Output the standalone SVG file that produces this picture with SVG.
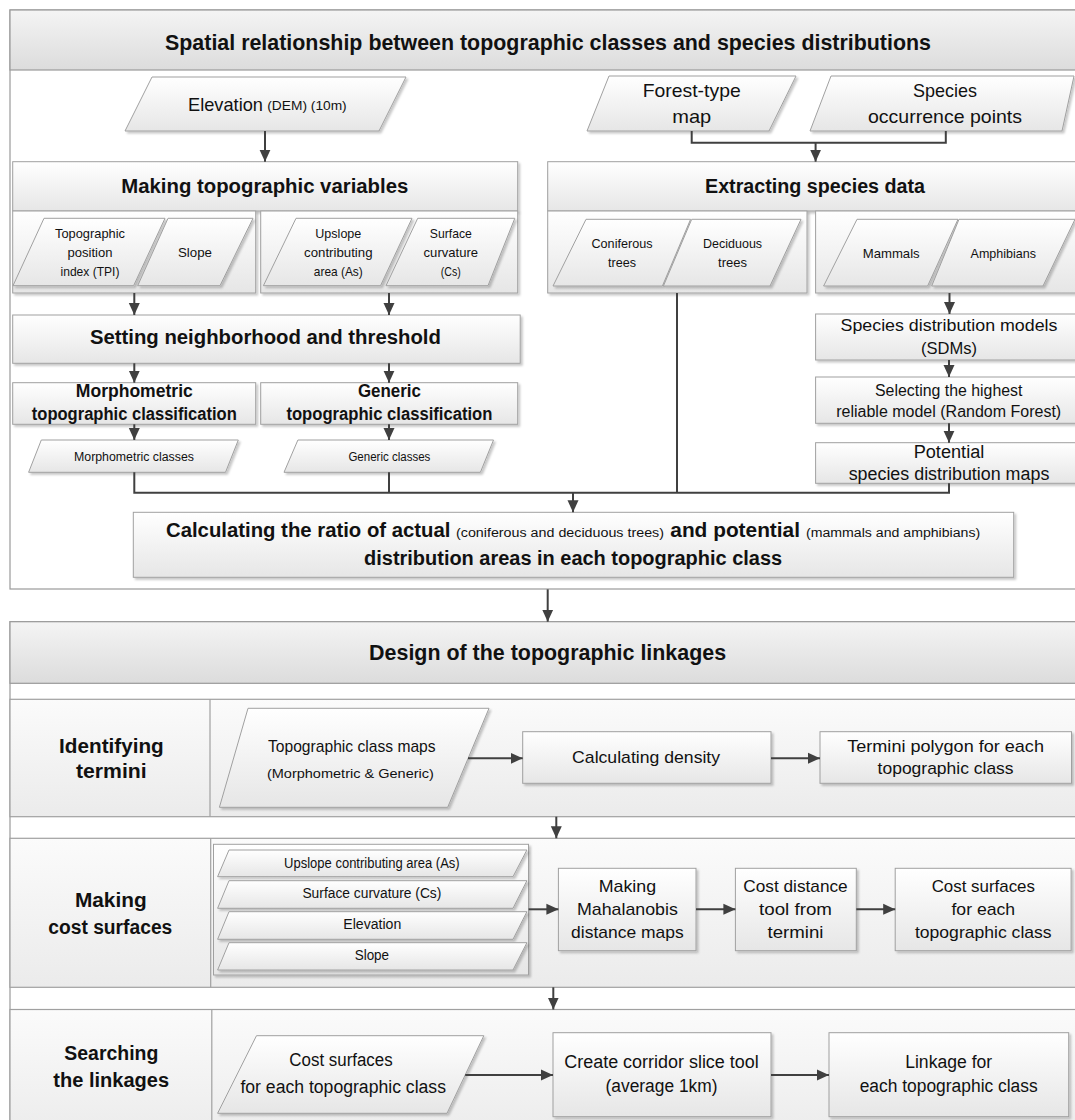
<svg xmlns="http://www.w3.org/2000/svg" width="1075" height="1120" viewBox="0 0 1075 1120">
<defs>
<linearGradient id="gBox" x1="0" y1="0" x2="0" y2="1"><stop offset="0" stop-color="#ffffff"/><stop offset="1" stop-color="#e6e6e6"/></linearGradient>
<linearGradient id="gTitle" x1="0" y1="0" x2="0" y2="1"><stop offset="0" stop-color="#f4f4f4"/><stop offset="1" stop-color="#dcdcdc"/></linearGradient>
<linearGradient id="gRow" x1="0" y1="0" x2="0" y2="1"><stop offset="0" stop-color="#fbfbfb"/><stop offset="1" stop-color="#ebebeb"/></linearGradient>
<filter id="sh" x="-5%" y="-5%" width="115%" height="130%"><feDropShadow dx="2" dy="2" stdDeviation="1.2" flood-color="#000" flood-opacity="0.22"/></filter>
<marker id="ah" viewBox="0 0 12 12" refX="12" refY="6" markerWidth="12" markerHeight="12" markerUnits="userSpaceOnUse" orient="auto"><path d="M0,0.5 L12,6 L0,11.5 z" fill="#404040"/></marker>
</defs>
<style>
.frame{fill:#ffffff;stroke:#9a9a9a;stroke-width:1.2}
.tbar{fill:url(#gTitle);stroke:#9a9a9a;stroke-width:1.2}
.row{fill:url(#gRow);stroke:#a0a0a0;stroke-width:1.2}
.box{fill:url(#gBox);stroke:#a0a0a0;stroke-width:1;filter:url(#sh)}
.conn{stroke:#404040;stroke-width:2;fill:none}
.arr{marker-end:url(#ah)}
text{font-family:"Liberation Sans",Arial,sans-serif;fill:#111111;text-anchor:middle}
.b{font-weight:bold}
.s{text-anchor:start}
</style>

<!-- Section 1 frame -->
<g id="section1">
<rect class="frame" x="10" y="10" width="1080" height="579"/>
<rect class="tbar" x="10" y="10" width="1080" height="60"/>
<text class="b" x="548" y="50" font-size="21.5" textLength="766" lengthAdjust="spacingAndGlyphs">Spatial relationship between topographic classes and species distributions</text>
</g>

<g id="elevation">
<polygon class="box" points="152,77 406,77 379,131 125,131"/>
<text class="s" x="188" y="111" font-size="19" textLength="75" lengthAdjust="spacingAndGlyphs">Elevation</text>
<text class="s" x="267.3" y="110" font-size="12" textLength="79.4" lengthAdjust="spacingAndGlyphs">(DEM) (10m)</text>
</g>

<g id="forest-type">
<polygon class="box" points="609,76 796,76 769,131 587,131"/>
<text x="691.7" y="97" font-size="19" textLength="98" lengthAdjust="spacingAndGlyphs">Forest-type</text>
<text x="691.7" y="123" font-size="19" textLength="39" lengthAdjust="spacingAndGlyphs">map</text>
</g>

<g id="species-occurrence">
<polygon class="box" points="831,76 1074,76 1062,131 810,131"/>
<text x="945" y="97" font-size="19" textLength="64" lengthAdjust="spacingAndGlyphs">Species</text>
<text x="945" y="123" font-size="19" textLength="154" lengthAdjust="spacingAndGlyphs">occurrence points</text>
</g>

<g id="making-topo-vars">
<rect class="box" x="12.7" y="161.7" width="505" height="49.3"/>
<rect class="box" x="12.7" y="211" width="243" height="82"/>
<rect class="box" x="260.7" y="211" width="257" height="82"/>
<text class="b" x="264.8" y="193" font-size="20" textLength="287" lengthAdjust="spacingAndGlyphs">Making topographic variables</text>
<polygon class="box" points="44,218.3 165,218.3 133.6,285.7 13,285.7"/>
<text x="90" y="238" font-size="13.5" textLength="70" lengthAdjust="spacingAndGlyphs">Topographic</text>
<text x="90" y="257" font-size="13.5" textLength="45" lengthAdjust="spacingAndGlyphs">position</text>
<text x="90" y="276" font-size="13.5" textLength="59" lengthAdjust="spacingAndGlyphs">index (TPI)</text>
<polygon class="box" points="168,218.3 253,218.3 220,285.7 137.7,285.7"/>
<text x="195" y="257" font-size="13.5" textLength="34" lengthAdjust="spacingAndGlyphs">Slope</text>
<polygon class="box" points="296,218.3 412,218.3 380.5,285.7 263.4,285.7"/>
<text x="338.3" y="238" font-size="13.5" textLength="46" lengthAdjust="spacingAndGlyphs">Upslope</text>
<text x="338.3" y="257" font-size="13.5" textLength="68.5" lengthAdjust="spacingAndGlyphs">contributing</text>
<text x="338.3" y="276" font-size="13.5" textLength="49" lengthAdjust="spacingAndGlyphs">area (As)</text>
<polygon class="box" points="417.7,218.3 514.8,218.3 488,285.7 386,285.7"/>
<text x="450.8" y="238" font-size="13.5" textLength="42" lengthAdjust="spacingAndGlyphs">Surface</text>
<text x="450.8" y="257" font-size="13.5" textLength="54.4" lengthAdjust="spacingAndGlyphs">curvature</text>
<text x="450.8" y="276" font-size="13.5" textLength="20" lengthAdjust="spacingAndGlyphs">(Cs)</text>
</g>

<g id="extracting-species">
<rect class="box" x="547.7" y="161.7" width="540" height="49.3"/>
<rect class="box" x="547.7" y="211" width="259.3" height="82"/>
<rect class="box" x="815.6" y="211" width="270" height="82"/>
<text class="b" x="815" y="193" font-size="20" textLength="220" lengthAdjust="spacingAndGlyphs">Extracting species data</text>
<polygon class="box" points="586,219.3 690.6,219.3 662.4,286 553,286"/>
<text x="622" y="248.3" font-size="13.5" textLength="61" lengthAdjust="spacingAndGlyphs">Coniferous</text>
<text x="622" y="266.7" font-size="13.5" textLength="28" lengthAdjust="spacingAndGlyphs">trees</text>
<polygon class="box" points="691.7,219.3 801,219.3 770,286 663.4,286"/>
<text x="732.6" y="248.3" font-size="13.5" textLength="59" lengthAdjust="spacingAndGlyphs">Deciduous</text>
<text x="732.6" y="266.7" font-size="13.5" textLength="29" lengthAdjust="spacingAndGlyphs">trees</text>
<polygon class="box" points="857,219.3 958,219.3 927.6,286 823.6,286"/>
<text x="891.2" y="258.3" font-size="13.5" textLength="57" lengthAdjust="spacingAndGlyphs">Mammals</text>
<polygon class="box" points="959,219.3 1075,219.3 1043,286 931.7,286"/>
<text x="1003.3" y="258.3" font-size="13.5" textLength="65.4" lengthAdjust="spacingAndGlyphs">Amphibians</text>
</g>

<g id="setting-neighborhood">
<rect class="box" x="12.7" y="315" width="507.5" height="48.3"/>
<text class="b" x="265.4" y="344" font-size="20" textLength="351" lengthAdjust="spacingAndGlyphs">Setting neighborhood and threshold</text>
</g>

<g id="morphometric-classification">
<rect class="box" x="12.7" y="382.7" width="243" height="41.6"/>
<text class="b" x="134.3" y="396.7" font-size="17.5" textLength="117" lengthAdjust="spacingAndGlyphs">Morphometric</text>
<text class="b" x="134.3" y="420" font-size="17.5" textLength="205" lengthAdjust="spacingAndGlyphs">topographic classification</text>
</g>

<g id="generic-classification">
<rect class="box" x="260.7" y="382.7" width="257" height="41.6"/>
<text class="b" x="389.4" y="396.7" font-size="17.5" textLength="63" lengthAdjust="spacingAndGlyphs">Generic</text>
<text class="b" x="389.4" y="420" font-size="17.5" textLength="206" lengthAdjust="spacingAndGlyphs">topographic classification</text>
</g>

<g id="morphometric-classes">
<polygon class="box" points="41.3,440 238.3,440 225.5,472.3 28.6,472.3"/>
<text x="134" y="461" font-size="12.5" textLength="120" lengthAdjust="spacingAndGlyphs">Morphometric classes</text>
</g>

<g id="generic-classes">
<polygon class="box" points="297.9,440 493.5,440 480.4,472.3 284,472.3"/>
<text x="389.4" y="461" font-size="12.5" textLength="82" lengthAdjust="spacingAndGlyphs">Generic classes</text>
</g>

<g id="sdm">
<rect class="box" x="815.6" y="314" width="270" height="46"/>
<text x="949" y="330.7" font-size="17" textLength="217" lengthAdjust="spacingAndGlyphs">Species distribution models</text>
<text x="949" y="354" font-size="17" textLength="56" lengthAdjust="spacingAndGlyphs">(SDMs)</text>
</g>

<g id="selecting-model">
<rect class="box" x="815.6" y="377" width="270" height="46.3"/>
<text x="948.7" y="396" font-size="16" textLength="147.4" lengthAdjust="spacingAndGlyphs">Selecting the highest</text>
<text x="948.7" y="416.7" font-size="16" textLength="225" lengthAdjust="spacingAndGlyphs">reliable model (Random Forest)</text>
</g>

<g id="potential-maps">
<rect class="box" x="815.6" y="442.7" width="270" height="40.6"/>
<text x="949" y="457.7" font-size="18" textLength="70.6" lengthAdjust="spacingAndGlyphs">Potential</text>
<text x="949" y="480" font-size="18" textLength="200.7" lengthAdjust="spacingAndGlyphs">species distribution maps</text>
</g>

<g id="calculating-ratio">
<rect class="box" x="133.3" y="512.3" width="880.4" height="65"/>
<text class="b s" x="166" y="537.3" font-size="20" textLength="284.4" lengthAdjust="spacingAndGlyphs">Calculating the ratio of actual</text>
<text class="s" x="456" y="537.3" font-size="12.5" textLength="208" lengthAdjust="spacingAndGlyphs">(coniferous and deciduous trees)</text>
<text class="b s" x="670.3" y="537.3" font-size="20" textLength="129.7" lengthAdjust="spacingAndGlyphs">and potential</text>
<text class="s" x="806" y="537.3" font-size="12.5" textLength="174.2" lengthAdjust="spacingAndGlyphs">(mammals and amphibians)</text>
<text class="b" x="573.1" y="565" font-size="20" textLength="418" lengthAdjust="spacingAndGlyphs">distribution areas in each topographic class</text>
</g>

<!-- Section 2 -->
<g id="section2">
<rect class="frame" x="10" y="621.7" width="1080" height="520"/>
<rect class="tbar" x="10" y="621.7" width="1080" height="61.6"/>
<text class="b" x="547.6" y="660" font-size="21.5" textLength="357" lengthAdjust="spacingAndGlyphs">Design of the topographic linkages</text>
<rect class="row" x="10" y="699.3" width="1080" height="117.4"/>
<line x1="210" y1="699.3" x2="210" y2="816.7" stroke="#a0a0a0" stroke-width="1.2"/>
<rect class="row" x="10" y="838.3" width="1080" height="149"/>
<line x1="210.7" y1="838.3" x2="210.7" y2="987.3" stroke="#a0a0a0" stroke-width="1.2"/>
<rect class="row" x="10" y="1009.5" width="1080" height="130"/>
<line x1="211.8" y1="1009.5" x2="211.8" y2="1139" stroke="#a0a0a0" stroke-width="1.2"/>
</g>

<g id="label-identifying">
<text class="b" x="111.4" y="752.7" font-size="20" textLength="104.6" lengthAdjust="spacingAndGlyphs">Identifying</text>
<text class="b" x="111.3" y="778.3" font-size="20" textLength="70.7" lengthAdjust="spacingAndGlyphs">termini</text>
</g>

<g id="topo-class-maps">
<polygon class="box" points="248,708.3 489,708.3 447.7,807.3 219.4,807.3"/>
<text x="351.8" y="751.7" font-size="17" textLength="167.6" lengthAdjust="spacingAndGlyphs">Topographic class maps</text>
<text x="350.4" y="777.7" font-size="12.5" textLength="167" lengthAdjust="spacingAndGlyphs">(Morphometric &amp; Generic)</text>
</g>

<g id="calc-density">
<rect class="box" x="522.7" y="731.7" width="248.3" height="51.6"/>
<text x="646.1" y="763.3" font-size="17" textLength="148" lengthAdjust="spacingAndGlyphs">Calculating density</text>
</g>

<g id="termini-polygon">
<rect class="box" x="820" y="731.7" width="251.5" height="51.6"/>
<text x="945.6" y="751.7" font-size="17" textLength="196.7" lengthAdjust="spacingAndGlyphs">Termini polygon for each</text>
<text x="945.6" y="774.3" font-size="17" textLength="136" lengthAdjust="spacingAndGlyphs">topographic class</text>
</g>

<g id="label-making-cost">
<text class="b" x="110.8" y="906.7" font-size="20" textLength="71.7" lengthAdjust="spacingAndGlyphs">Making</text>
<text class="b" x="110.3" y="934" font-size="20" textLength="124" lengthAdjust="spacingAndGlyphs">cost surfaces</text>
</g>

<g id="cost-variables">
<rect class="box" x="213.5" y="844.3" width="315" height="130.7"/>
<polygon class="box" points="229,850 526.9,850 513,876.7 217.6,876.7"/>
<text x="371.9" y="868.3" font-size="14" textLength="175.6" lengthAdjust="spacingAndGlyphs">Upslope contributing area (As)</text>
<polygon class="box" points="229,880.7 526.9,880.7 513,908.3 217.6,908.3"/>
<text x="371.9" y="898.3" font-size="14" textLength="139" lengthAdjust="spacingAndGlyphs">Surface curvature (Cs)</text>
<polygon class="box" points="229,911.7 526.9,911.7 513,939.3 217.6,939.3"/>
<text x="372.3" y="929.3" font-size="14" textLength="58" lengthAdjust="spacingAndGlyphs">Elevation</text>
<polygon class="box" points="229,942.7 526.9,942.7 513,970 217.6,970"/>
<text x="371.9" y="960" font-size="14" textLength="34.4" lengthAdjust="spacingAndGlyphs">Slope</text>
</g>

<g id="mahalanobis">
<rect class="box" x="558.4" y="868.3" width="137.6" height="82.4"/>
<text x="627.4" y="891.7" font-size="17" textLength="57.5" lengthAdjust="spacingAndGlyphs">Making</text>
<text x="627.4" y="915" font-size="17" textLength="101" lengthAdjust="spacingAndGlyphs">Mahalanobis</text>
<text x="627.4" y="938.3" font-size="17" textLength="112.6" lengthAdjust="spacingAndGlyphs">distance maps</text>
</g>

<g id="cost-distance">
<rect class="box" x="735.4" y="868.3" width="120.9" height="82.4"/>
<text x="795.5" y="891.7" font-size="17" textLength="104.4" lengthAdjust="spacingAndGlyphs">Cost distance</text>
<text x="795.5" y="915" font-size="17" textLength="73" lengthAdjust="spacingAndGlyphs">tool from</text>
<text x="795.5" y="938.3" font-size="17" textLength="56" lengthAdjust="spacingAndGlyphs">termini</text>
</g>

<g id="cost-surfaces-out">
<rect class="box" x="895.2" y="868.3" width="175.9" height="82.4"/>
<text x="983.3" y="891.7" font-size="17" textLength="103.3" lengthAdjust="spacingAndGlyphs">Cost surfaces</text>
<text x="983.3" y="915" font-size="17" textLength="63.7" lengthAdjust="spacingAndGlyphs">for each</text>
<text x="983.3" y="938.3" font-size="17" textLength="136.7" lengthAdjust="spacingAndGlyphs">topographic class</text>
</g>

<g id="label-searching">
<text class="b" x="111.3" y="1060" font-size="20" textLength="94" lengthAdjust="spacingAndGlyphs">Searching</text>
<text class="b" x="111.2" y="1087" font-size="20" textLength="115.7" lengthAdjust="spacingAndGlyphs">the linkages</text>
</g>

<g id="cost-surfaces-in">
<polygon class="box" points="256.5,1035.7 483.8,1035.7 447,1113.3 217.6,1113.3"/>
<text x="341" y="1066" font-size="18" textLength="103.3" lengthAdjust="spacingAndGlyphs">Cost surfaces</text>
<text x="343.2" y="1093.3" font-size="18" textLength="205.6" lengthAdjust="spacingAndGlyphs">for each topographic class</text>
</g>

<g id="corridor-slice">
<rect class="box" x="553" y="1032.7" width="218" height="84"/>
<text x="661.5" y="1068.3" font-size="18" textLength="194.5" lengthAdjust="spacingAndGlyphs">Create corridor slice tool</text>
<text x="661.5" y="1091.7" font-size="18" textLength="112" lengthAdjust="spacingAndGlyphs">(average 1km)</text>
</g>

<g id="linkage">
<rect class="box" x="829" y="1032.7" width="239.7" height="84"/>
<text x="948.7" y="1068.3" font-size="18" textLength="87" lengthAdjust="spacingAndGlyphs">Linkage for</text>
<text x="948.7" y="1091.7" font-size="18" textLength="178" lengthAdjust="spacingAndGlyphs">each topographic class</text>
</g>

<g id="connectors">
<line class="conn arr" x1="265" y1="131" x2="265" y2="161.7"/>
<polyline class="conn" points="691.7,131 691.7,142.7 945.8,142.7 945.8,131"/>
<line class="conn arr" x1="815.6" y1="142.7" x2="815.6" y2="161.7"/>
<line class="conn arr" x1="134.3" y1="293" x2="134.3" y2="315"/>
<line class="conn arr" x1="389" y1="293" x2="389" y2="315"/>
<line class="conn arr" x1="134.3" y1="363.3" x2="134.3" y2="382.7"/>
<line class="conn arr" x1="389" y1="363.3" x2="389" y2="382.7"/>
<line class="conn arr" x1="134.3" y1="424.3" x2="134.3" y2="440"/>
<line class="conn arr" x1="389" y1="424.3" x2="389" y2="440"/>
<line class="conn arr" x1="949.5" y1="293" x2="949.5" y2="314"/>
<line class="conn arr" x1="949" y1="360" x2="949" y2="377"/>
<line class="conn arr" x1="949" y1="423.3" x2="949" y2="442.7"/>
<polyline class="conn" points="134.3,472.3 134.3,492.7 949,492.7 949,483.3"/>
<line class="conn" x1="389" y1="472.3" x2="389" y2="492.7"/>
<line class="conn" x1="677" y1="293" x2="677" y2="492.7"/>
<line class="conn arr" x1="573" y1="492.7" x2="573" y2="512.3"/>
<line class="conn arr" x1="547.7" y1="589.3" x2="547.7" y2="621.7"/>
<line class="conn arr" x1="468" y1="758.3" x2="522.7" y2="758.3"/>
<line class="conn arr" x1="771" y1="758.3" x2="820" y2="758.3"/>
<line class="conn arr" x1="556.3" y1="816.7" x2="556.3" y2="838.3"/>
<line class="conn arr" x1="528.6" y1="909.3" x2="558.4" y2="909.3"/>
<line class="conn arr" x1="696" y1="909.3" x2="735.4" y2="909.3"/>
<line class="conn arr" x1="856.3" y1="909.3" x2="895.2" y2="909.3"/>
<line class="conn arr" x1="553.3" y1="987.3" x2="553.3" y2="1009.5"/>
<line class="conn arr" x1="465.2" y1="1075" x2="553" y2="1075"/>
<line class="conn arr" x1="771" y1="1075" x2="829" y2="1075"/>
</g>
</svg>
